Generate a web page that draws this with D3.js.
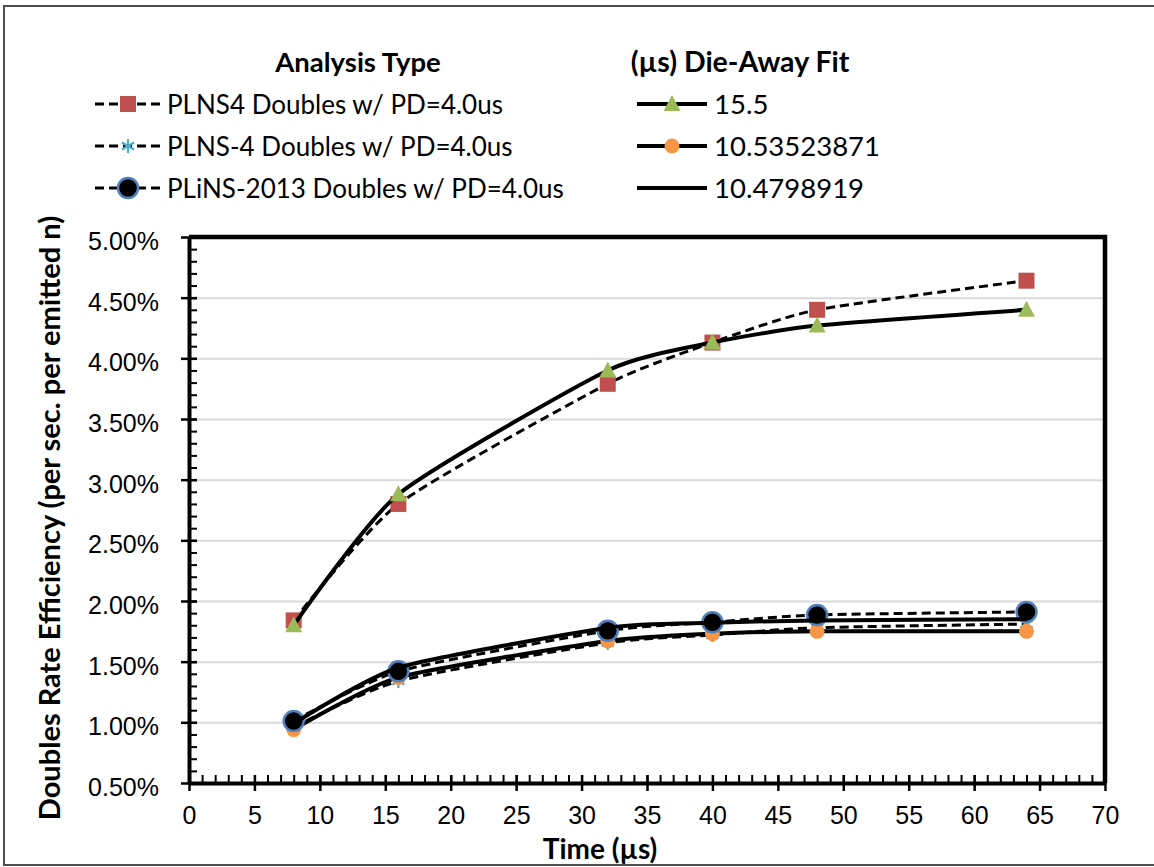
<!DOCTYPE html>
<html>
<head>
  <meta charset="UTF-8">
  <title>Doubles Rate Efficiency vs Time</title>
  <script src="https://d3js.org/d3.v7.min.js"></script>
  <style>
    body { margin: 0; background: #fff; }
    svg { font-family: Lato, "Open Sans", sans-serif; }
    .tick text { font-size: 25px; fill: #000; }
    .axis path { stroke: #000; stroke-width: 4; }
    .axis line { stroke: #000; stroke-width: 2.5; }
    .minor path { display: none; }
    .minor line { stroke: #000; stroke-width: 2; }
    .grid line { stroke: #d9d9d9; stroke-width: 2; }
    .grid path { display: none; }
  </style>
</head>
<body>
  <div id="chart"></div>
  <script>
    // data (values in %)
    var times = [8, 16, 32, 40, 48, 64];
    var plns4 = [1.84, 2.80, 3.79, 4.13, 4.40, 4.64];
    var fit155 = [1.80, 2.88, 3.90, 4.13, 4.27, 4.40];
    var plnsDash4 = [0.96, 1.34, 1.655, 1.72, 1.78, 1.81];
    var fit1053 = [0.94, 1.37, 1.67, 1.73, 1.75, 1.75];
    var plins2013 = [1.01, 1.42, 1.755, 1.825, 1.885, 1.91];
    var fit1048 = [0.99, 1.45, 1.78, 1.82, 1.84, 1.85];

    var xTicks = d3.range(0, 71, 5);
    var yTicks = [0.5, 1, 1.5, 2, 2.5, 3, 3.5, 4, 4.5, 5];

    var series = [
      { name: "PLNS4 Doubles w/ PD=4.0us", values: plns4, dashed: true, marker: "square", fill: "#c0504d" },
      { name: "15.5", values: fit155, dashed: false, marker: "triangle", fill: "#9bbb59" },
      { name: "PLNS-4 Doubles w/ PD=4.0us", values: plnsDash4, dashed: true, marker: "star", fill: "#4bacc6" },
      { name: "10.53523871", values: fit1053, dashed: false, marker: "circle", fill: "#f79646" },
      { name: "PLiNS-2013 Doubles w/ PD=4.0us", values: plins2013, dashed: true, marker: "bigcircle", fill: "#000" },
      { name: "10.4798919", values: fit1048, dashed: false, marker: null, fill: null }
    ];

    var W = 1154, H = 867;
    var mLeft = 189, mRight = 1105, mTop = 237, mBottom = 783;

    var svg = d3.select("#chart").append("svg")
      .attr("width", W)
      .attr("height", H);

    // outer chart border
    svg.append("rect")
      .attr("x", 4).attr("y", 6)
      .attr("width", 1160).attr("height", 859)
      .attr("fill", "none")
      .attr("stroke", "#4d4d4d")
      .attr("stroke-width", 2);

    var x = d3.scaleLinear().domain([0, 70]).range([mLeft, mRight]);
    var y = d3.scaleLinear().domain([0.5, 5]).range([mBottom, mTop]);

    // gridlines
    svg.append("g")
      .attr("class", "grid")
      .attr("transform", "translate(" + mLeft + ",0)")
      .call(d3.axisLeft(y).tickValues(yTicks.slice(1, -1)).tickSize(-(mRight - mLeft)).tickFormat(""));

    // frame top / right
    svg.append("path")
      .attr("d", "M" + mLeft + "," + mTop + "H" + mRight + "V" + mBottom)
      .attr("fill", "none")
      .attr("stroke", "#000")
      .attr("stroke-width", 4.5);

    // minor ticks
    svg.append("g")
      .attr("class", "minor")
      .attr("transform", "translate(0," + mBottom + ")")
      .call(d3.axisBottom(x).tickValues(d3.range(0, 71, 1)).tickSize(-8).tickFormat(""));
    svg.append("g")
      .attr("class", "minor")
      .attr("transform", "translate(" + mLeft + ",0)")
      .call(d3.axisLeft(y).tickValues(d3.range(5, 51, 1).map(function (d) { return d / 10; })).tickSize(-8).tickFormat(""));

    // major axes
    var xAxis = svg.append("g")
      .attr("class", "axis")
      .attr("transform", "translate(0," + mBottom + ")")
      .call(d3.axisBottom(x).tickValues(xTicks).tickSize(8).tickSizeOuter(0).tickPadding(19));
    xAxis.selectAll(".tick line").attr("y1", -8);

    var yAxis = svg.append("g")
      .attr("class", "axis")
      .attr("transform", "translate(" + mLeft + ",0)")
      .call(d3.axisLeft(y).tickValues(yTicks).tickSize(8).tickSizeOuter(0).tickPadding(22)
        .tickFormat(function (d) { return d.toFixed(2) + "%"; }));
    yAxis.selectAll(".tick line").attr("x1", 8);
    yAxis.selectAll(".tick text").attr("dy", "0.5em");
    xAxis.selectAll(".tick text").attr("dy", "0.55em");

    // axis titles
    svg.append("text")
      .attr("transform", "translate(60,518) rotate(-90)")
      .attr("text-anchor", "middle")
      .attr("font-size", 29)
      .attr("font-weight", "bold")
      .text("Doubles Rate Efficiency (per sec. per emitted n)");
    svg.append("text")
      .attr("x", 600).attr("y", 859)
      .attr("text-anchor", "middle")
      .attr("font-size", 28)
      .attr("font-weight", "bold")
      .text("Time (\u00b5s)");

    function drawMarker(g, type, fill, cx, cy) {
      if (type === "square") {
        g.append("rect").attr("x", cx - 8).attr("y", cy - 8).attr("width", 16).attr("height", 16)
          .attr("fill", fill);
      } else if (type === "triangle") {
        g.append("path").attr("d", "M" + cx + "," + (cy - 9) + "L" + (cx + 8.5) + "," + (cy + 7) + "L" + (cx - 8.5) + "," + (cy + 7) + "Z")
          .attr("fill", fill);
      } else if (type === "circle") {
        g.append("circle").attr("cx", cx).attr("cy", cy).attr("r", 7.5).attr("fill", fill);
      } else if (type === "bigcircle") {
        g.append("circle").attr("cx", cx).attr("cy", cy).attr("r", 10).attr("fill", "#000")
          .attr("stroke", "#4f81bd").attr("stroke-width", 2.5);
      } else if (type === "star") {
        var r = 7;
        [0, 60, 120].forEach(function (a) {
          var rad = a * Math.PI / 180;
          g.append("line")
            .attr("x1", cx - r * Math.sin(rad)).attr("y1", cy - r * Math.cos(rad))
            .attr("x2", cx + r * Math.sin(rad)).attr("y2", cy + r * Math.cos(rad))
            .attr("stroke", fill).attr("stroke-width", 2.2);
        });
      }
    }

    var line = d3.line()
      .x(function (d) { return x(d[0]); })
      .y(function (d) { return y(d[1]); })
      .curve(d3.curveCardinal.tension(0.4));

    var plot = svg.append("g");
    series.forEach(function (s) {
      var pts = times.map(function (t, i) { return [t, s.values[i]]; });
      var g = plot.append("g");
      g.append("path")
        .attr("d", line(pts))
        .attr("fill", "none")
        .attr("stroke", "#000")
        .attr("stroke-width", s.dashed ? 3 : 4)
        .attr("stroke-dasharray", s.dashed ? "9,5" : null);
      if (s.marker) {
        pts.forEach(function (p) { drawMarker(g, s.marker, s.fill, x(p[0]), y(p[1])); });
      }
    });

    // legend
    svg.append("text").attr("x", 358).attr("y", 72).attr("text-anchor", "middle")
      .attr("font-size", 27.5).attr("font-weight", "bold").text("Analysis Type");
    svg.append("text").attr("x", 740).attr("y", 72).attr("text-anchor", "middle")
      .attr("font-size", 28.5).attr("font-weight", "bold").text("(\u00b5s) Die-Away Fit");

    var rowsY = [104, 146, 188];
    series.forEach(function (s, i) {
      var col = i % 2, row = Math.floor(i / 2);
      var x0 = col === 0 ? 95 : 637, x1 = col === 0 ? 161 : 707;
      var cy = rowsY[row];
      var g = svg.append("g");
      g.append("line")
        .attr("x1", x0).attr("x2", x1).attr("y1", cy).attr("y2", cy)
        .attr("stroke", "#000")
        .attr("stroke-width", s.dashed ? 3 : 4)
        .attr("stroke-dasharray", s.dashed ? "9,5" : null);
      if (s.marker) drawMarker(g, s.marker, s.fill, (x0 + x1) / 2, cy);
      g.append("text")
        .attr("x", col === 0 ? 167 : 714)
        .attr("y", cy + 10)
        .attr("font-size", col === 0 ? 26 : 27.5)
        .text(s.name);
    });
  </script>
</body>
</html>
